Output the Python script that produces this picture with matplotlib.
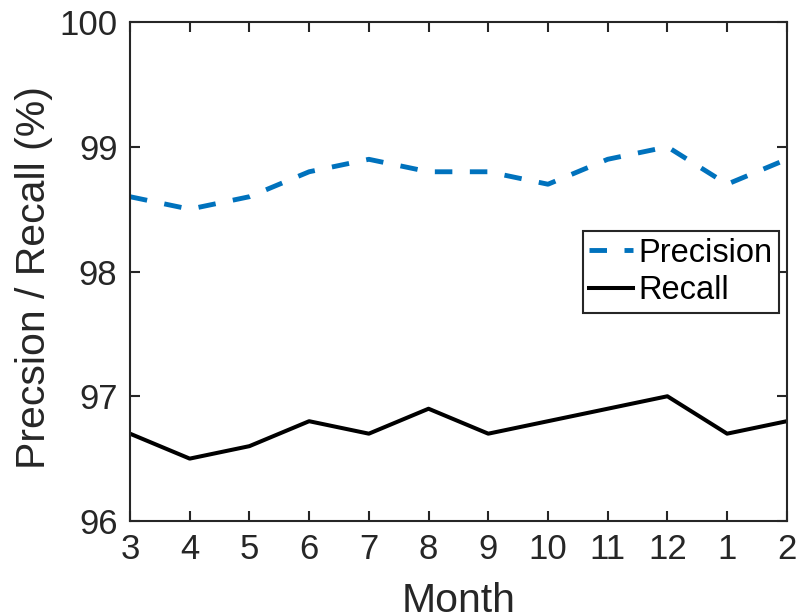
import matplotlib
matplotlib.use("Agg")
import matplotlib.pyplot as plt

# month order and values
months = ["3", "4", "5", "6", "7", "8", "9", "10", "11", "12", "1", "2"]
precision = [98.6, 98.5, 98.6, 98.8, 98.9, 98.8, 98.8, 98.7, 98.9, 99.0, 98.7, 98.9]
recall = [96.7, 96.5, 96.6, 96.8, 96.7, 96.9, 96.7, 96.8, 96.9, 97.0, 96.7, 96.8]
y_ticks = [96, 97, 98, 99, 100]

plt.rcParams["font.family"] = ["Liberation Sans", "DejaVu Sans"]
plt.rcParams["font.size"] = 25

fig = plt.figure(figsize=(8, 6.14), dpi=100)
ax = fig.add_axes([0.1625, 0.1515, 0.821, 0.8125])

x = list(range(len(months)))
ax.plot(x, precision, color="#0072BD", linestyle=(0, (3.6, 3.6)), linewidth=3.5, label="Precision")
ax.plot(x, recall, color="black", linewidth=2.9, label="Recall")

ax.set_xlim(0, len(months) - 1)
ax.set_ylim(96, 100)
ax.set_xticks(x)
ax.set_xticklabels(months)
ax.set_yticks(y_ticks)
ax.tick_params(direction="in", length=7, width=1.5, top=True, right=True,
               colors="#262626", labelsize=25, pad=9)
for s in ax.spines.values():
    s.set_linewidth(1.5)
    s.set_color("#262626")

ax.set_xlabel("Month", color="#262626", fontsize=29.5, labelpad=11)
ax.set_ylabel("Precsion / Recall (%)", color="#262626", fontsize=29.5)
ax.yaxis.set_label_coords(-0.117, 0.487)

leg = ax.legend(loc="upper right", bbox_to_anchor=(0.988, 0.581), fontsize=23.5,
                handlelength=1.35, handletextpad=0.15, borderpad=0.2, labelspacing=0.2,
                fancybox=False, edgecolor="#262626", framealpha=1, borderaxespad=0)
leg.get_frame().set_linewidth(1.5)

fig.savefig("out.png", dpi=100)
plt.close(fig)
